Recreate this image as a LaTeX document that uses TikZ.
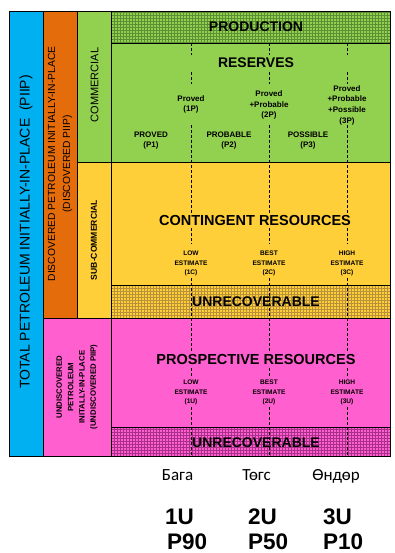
\documentclass[tikz,border=0pt]{standalone}
\usepackage{fontspec}
\setmainfont{Liberation Sans}
\newfontfamily\cyrfont{Carlito}
\definecolor{cblue}{HTML}{00B0F0}
\definecolor{corange}{HTML}{E46C0A}
\definecolor{cgreen}{HTML}{92D050}
\definecolor{cyellow}{HTML}{FFCF3A}
\definecolor{cpink}{HTML}{FF5FCF}
\definecolor{hgreen}{HTML}{5C8F33}
\definecolor{hyellow}{HTML}{B8913A}
\definecolor{hpink}{HTML}{A8308A}
\tikzset{
  box/.style={draw=black, line width=0.8pt},
  vline/.style={densely dashed, line width=0.7pt},
  big/.style={font=\bfseries\fontsize{14}{16}\selectfont, inner sep=0pt},
  big2/.style={font=\bfseries\fontsize{14.5}{16}\selectfont, inner sep=0pt},
  small/.style={font=\bfseries\fontsize{8}{10.7}\selectfont, align=center, inner sep=0pt},
  tiny/.style={font=\bfseries\fontsize{6.6}{9.6}\selectfont, align=center, inner sep=0pt},
  hatch/.style={line width=0.9pt},
  cyr/.style={font=\cyrfont\fontsize{17}{18}\selectfont, inner sep=0pt, anchor=base},
  bot/.style={font=\bfseries\fontsize{22.5}{24}\selectfont, inner sep=0pt, anchor=base west},
}
\begin{document}
\begin{tikzpicture}[x=1pt,y=-1pt]
\useasboundingbox (0,0) rectangle (395,553);
% fills
\fill[cblue] (9,11) rectangle (43,456);
\fill[corange] (43,11) rectangle (77,318);
\fill[cgreen] (77,11) rectangle (390,162);
\fill[cyellow] (77,162) rectangle (390,318);
\fill[cpink] (43,318) rectangle (390,456);
% hatched bands
\draw[hatch, hgreen, step=3pt] (111,11) grid (390,43);
\draw[hatch, hyellow, step=3pt] (111,285) grid (390,318);
\draw[hatch, hpink, step=3pt] (111,427) grid (390,456);
% borders
\draw[box] (9,11) rectangle (390,456);
\draw[box] (43,11) -- (43,456);
\draw[box] (77,11) -- (77,318);
\draw[box] (111,11) -- (111,456);
\draw[box] (111,43) -- (390,43);
\draw[box] (77,162) -- (390,162);
\draw[box] (111,285) -- (390,285);
\draw[box] (43,318) -- (390,318);
\draw[box] (111,427) -- (390,427);
% dashed dividers
\foreach \x in {191,269,347} {
  \draw[vline] (\x,43) -- (\x,55);
  \draw[vline] (\x,72) -- (\x,84);
  \draw[vline] (\x,125) -- (\x,213);
  \draw[vline] (\x,228) -- (\x,244);
  \draw[vline] (\x,278) -- (\x,352);
  \draw[vline] (\x,368) -- (\x,378);
  \draw[vline] (\x,407) -- (\x,456);
}
% side labels
\node[rotate=90, inner sep=0pt, font=\fontsize{14}{18}\selectfont] (total) at (26,232) {TOTAL PETROLEUM INITIALLY-IN-PLACE\ \ (PIIP)};
\node[rotate=90, inner sep=0pt, align=center, font=\fontsize{10.3}{15}\selectfont] (disc) at (60,164) {DISCOVERED PETROLEUM INITIALLY-IN-PLACE\\(DISCOVERED PIIP)};
\node[rotate=90, inner sep=0pt, font=\fontsize{11}{13}\selectfont] (comm) at (94.5,85) {COMMERCIAL};
\node[rotate=90, inner sep=0pt, font=\bfseries\fontsize{8.6}{10}\selectfont] (subc) at (94,240) {SUB-COMMERCIAL};
\node[rotate=90, inner sep=0pt, align=center, font=\bfseries\fontsize{7.8}{11.3}\selectfont] (undisc) at (77,387) {UNDISCOVERED\\PETROLEUM\\INITALLY-IN-PLACE\\(UNDISCOVERED PIIP)};
% main labels
\node[big] (prod) at (256,27) {PRODUCTION};
\node[big] (res) at (256,63) {RESERVES};
\node[small] (p1p) at (191,104.5) {Proved\\(1P)};
\node[small] (p2p) at (269,105) {Proved\\+Probable\\(2P)};
\node[small] (p3p) at (347,105) {Proved\\+Probable\\+Possible\\(3P)};
\node[small] (pp1) at (151,140.5) {PROVED\\(P1)};
\node[small] (pp2) at (229,140.5) {PROBABLE\\(P2)};
\node[small] (pp3) at (308,140.5) {POSSIBLE\\(P3)};
\node[big2] (cont) at (255,221) {CONTINGENT RESOURCES};
\node[tiny] (c1) at (191,263.5) {LOW\\ESTIMATE\\(1C)};
\node[tiny] (c2) at (269,263.5) {BEST\\ESTIMATE\\(2C)};
\node[tiny] (c3) at (347,263.5) {HIGH\\ESTIMATE\\(3C)};
\node[big] (unr1) at (256,302) {UNRECOVERABLE};
\node[big2] (prosp) at (256,360) {PROSPECTIVE RESOURCES};
\node[tiny] (u1) at (191,392.5) {LOW\\ESTIMATE\\(1U)};
\node[tiny] (u2) at (269,392.5) {BEST\\ESTIMATE\\(2U)};
\node[tiny] (u3) at (347,392.5) {HIGH\\ESTIMATE\\(3U)};
\node[big] (unr2) at (256,443) {UNRECOVERABLE};
% bottom labels
\node[cyr] (low) at (177.5,480) {Бага};
\node[cyr] (mid) at (256.5,480) {Төгс};
\node[cyr] (high) at (336,480) {Өндөр};
\node[bot] (u1b) at (165,524) {1U};
\node[bot] (u2b) at (248,524) {2U};
\node[bot] (u3b) at (323,524) {3U};
\node[bot] (p90) at (167,549) {P90};
\node[bot] (p50) at (248,549) {P50};
\node[bot] (p10) at (323,549) {P10};
\end{tikzpicture}
\end{document}
